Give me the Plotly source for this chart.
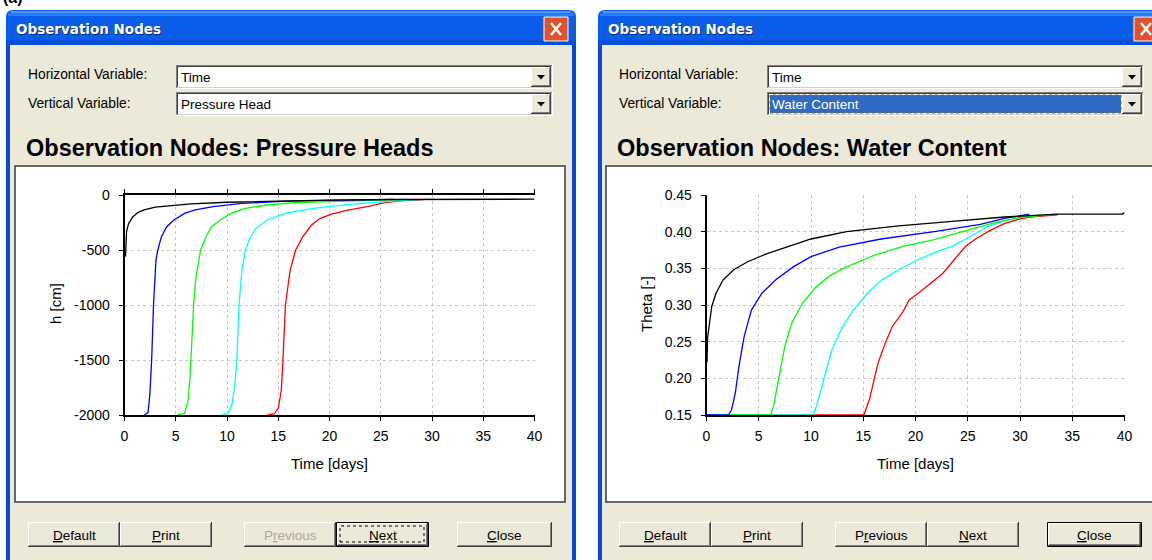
import plotly.graph_objects as go

W, H = 1152, 560

# ---------------- data ----------------
time_ticks = [0, 5, 10, 15, 20, 25, 30, 35, 40]
time_tick_labels = ["0", "5", "10", "15", "20", "25", "30", "35", "40"]
h_ticks = [-2000, -1500, -1000, -500, 0]
h_tick_labels = ["-2000", "-1500", "-1000", "-500", "0"]
theta_ticks = [0.15, 0.20, 0.25, 0.30, 0.35, 0.40, 0.45]
theta_tick_labels = ["0.15", "0.20", "0.25", "0.30", "0.35", "0.40", "0.45"]

node_names = ["Node 1", "Node 2", "Node 3", "Node 4", "Node 5"]
node_colors = ["#000000", "#0000FF", "#00FF00", "#00FFFF", "#FF0000"]

# pressure head h [cm] vs time [days]
h_t1 = [0.1, 0.12, 0.2, 0.4, 0.8, 1.3, 1.9, 3.0, 4.5, 6.5, 10, 15, 20, 26, 40]
h_v1 = [-560, -420, -330, -260, -200, -160, -135, -110, -95, -80, -66, -54, -46, -41, -38]
h_t2 = [1.95, 2.30, 2.48, 2.65, 2.83, 3.07, 3.25, 3.6, 4.12, 4.82, 5.86, 6.9, 8.66, 11.45, 15.3, 19.5, 26.3]
h_v2 = [-2000, -1976, -1803, -1500, -1000, -591, -500, -379, -288, -227, -167, -136, -106, -76, -58, -48, -39]
h_t3 = [5.17, 5.86, 6.21, 6.39, 6.56, 6.74, 6.98, 7.43, 7.96, 8.48, 9.35, 10.4, 11.8, 13.9, 16.7, 20.2, 23.7, 27.5]
h_v3 = [-2000, -1985, -1863, -1651, -1348, -1000, -742, -500, -379, -288, -227, -167, -121, -91, -70, -61, -52, -39]
h_t4 = [9.53, 10.1, 10.47, 10.75, 10.96, 11.17, 11.45, 11.8, 12.3, 12.85, 13.9, 15.6, 18.4, 21.9, 25.4, 28.55]
h_v4 = [-2000, -1985, -1909, -1742, -1500, -1000, -682, -500, -379, -303, -227, -167, -121, -85, -61, -42]
h_t5 = [13.96, 14.6, 15.0, 15.3, 15.46, 15.7, 16.16, 16.7, 17.4, 18.25, 19.1, 20.2, 21.9, 23.7, 25.4, 27.15, 29.2]
h_v5 = [-2000, -1991, -1939, -1773, -1500, -1000, -682, -500, -379, -273, -212, -173, -136, -106, -70, -52, -42]

# water content theta [-] vs time [days]
w_t1 = [0.05, 0.1, 0.24, 0.5, 0.91, 1.58, 2.6, 3.94, 5.6, 7.65, 10.0, 13.4, 18.4, 23.5, 28.5, 33.6, 39.8, 40.0]
w_v1 = [0.222, 0.255, 0.27, 0.298, 0.316, 0.334, 0.348, 0.359, 0.369, 0.379, 0.390, 0.400, 0.408, 0.414, 0.420, 0.424, 0.424, 0.426]
w_t2 = [0, 2.1, 2.4, 2.76, 3.1, 3.6, 4.3, 5.3, 6.6, 8.3, 10.0, 12.7, 16.7, 21.8, 26.2, 28.5, 30.9]
w_v2 = [0.15, 0.15, 0.157, 0.18, 0.216, 0.257, 0.293, 0.316, 0.334, 0.352, 0.366, 0.379, 0.390, 0.400, 0.410, 0.418, 0.424]
w_t3 = [0, 6.13, 6.4, 6.64, 6.98, 7.48, 8.15, 9.17, 10.35, 11.7, 13.4, 16.1, 18.8, 21.8, 24.5, 27.5, 30.2, 32.6, 33.6]
w_v3 = [0.15, 0.15, 0.161, 0.18, 0.207, 0.243, 0.275, 0.302, 0.323, 0.339, 0.352, 0.368, 0.380, 0.389, 0.400, 0.412, 0.420, 0.423, 0.424]
w_t4 = [0, 10.2, 10.5, 10.85, 11.35, 12.0, 13.0, 14.05, 15.4, 16.75, 18.4, 20.1, 22.1, 23.5, 25.2, 26.9, 28.5, 30.2, 32.2]
w_v4 = [0.15, 0.15, 0.161, 0.18, 0.207, 0.239, 0.27, 0.293, 0.316, 0.334, 0.348, 0.361, 0.373, 0.380, 0.393, 0.407, 0.415, 0.420, 0.423]
w_t5 = [0, 15.06, 15.57, 15.9, 16.4, 17.1, 17.76, 18.8, 19.4, 20.45, 21.5, 22.6, 23.66, 24.8, 25.85, 27.2, 28.5, 29.9, 30.9, 33.6]
w_v5 = [0.15, 0.15, 0.17, 0.189, 0.22, 0.248, 0.27, 0.291, 0.307, 0.318, 0.33, 0.343, 0.361, 0.380, 0.391, 0.402, 0.411, 0.417, 0.420, 0.423]

h_times = [h_t1, h_t2, h_t3, h_t4, h_t5]
h_values = [h_v1, h_v2, h_v3, h_v4, h_v5]
w_times = [w_t1, w_t2, w_t3, w_t4, w_t5]
w_values = [w_v1, w_v2, w_v3, w_v4, w_v5]

# ---------------- helpers (pixel -> paper) ----------------
UI_FONT = "Liberation Sans, Arial, sans-serif"
shapes, annotations = [], []


def X(px):
    return px / W


def Y(py):
    return 1 - py / H


def rect(x0, y0, x1, y1, fill=None, line=None, lw=1, dash="solid"):
    shp = dict(type="rect", xref="paper", yref="paper", layer="below",
               x0=X(x0), x1=X(x1), y0=Y(y1), y1=Y(y0),
               fillcolor=fill or "rgba(0,0,0,0)")
    shp["line"] = dict(color=line, width=lw, dash=dash) if line else dict(width=0)
    shapes.append(shp)


def seg(x0, y0, x1, y1, color, lw=1, dash="solid"):
    shapes.append(dict(type="line", xref="paper", yref="paper", layer="below",
                       x0=X(x0), x1=X(x1), y0=Y(y0), y1=Y(y1),
                       line=dict(color=color, width=lw, dash=dash)))


def poly(points, fill):
    d = "M " + " L ".join(f"{X(x):.6f},{Y(y):.6f}" for x, y in points) + " Z"
    shapes.append(dict(type="path", xref="paper", yref="paper", layer="below",
                       path=d, fillcolor=fill, line=dict(width=0)))


def text(x, y, s, size=13, color="#000000", family=UI_FONT, xanchor="left", angle=0):
    annotations.append(dict(x=X(x), y=Y(y), xref="paper", yref="paper", text=s,
                            showarrow=False, xanchor=xanchor, yanchor="middle",
                            textangle=angle, borderpad=0,
                            font=dict(size=size, color=color, family=family)))


def window(x0, x1):
    top, r = 10, 7
    d = (f"M {X(x0)},{Y(H + 5)} L {X(x0)},{Y(top + r)} Q {X(x0)},{Y(top)} {X(x0 + r)},{Y(top)} "
         f"L {X(x1 - r)},{Y(top)} Q {X(x1)},{Y(top)} {X(x1)},{Y(top + r)} L {X(x1)},{Y(H + 5)} Z")
    shapes.append(dict(type="path", xref="paper", yref="paper", layer="below",
                       path=d, fillcolor="#0A5DE8", line=dict(width=0)))
    rect(x0 + 5, 11, x1 - 5, 13, fill="#4A98FF")
    rect(x0 + 2, 13, x1 - 2, 16, fill="#2A7BF8")
    rect(x0, 40, x1, 45, fill="#0550DA")
    rect(x0, 45, x1, H + 5, fill="#0847D8")
    rect(x0 + 4, 45, x1 - 4, H + 5, fill="#ECE9D8")
    text(x0 + 10, 29.5, "<b>Observation Nodes</b>", size=13.5, color="#0A2A80",
         family="DejaVu Sans, sans-serif")
    text(x0 + 9, 28.5, "<b>Observation Nodes</b>", size=13.5, color="#FFFFFF",
         family="DejaVu Sans, sans-serif")


def close_btn(x0):
    rect(x0, 17, x0 + 24, 41, fill="#E0522C", line="#FFFFFF", lw=1)
    seg(x0 + 7, 23, x0 + 17, 35, "#FFFFFF", 2.5)
    seg(x0 + 17, 23, x0 + 7, 35, "#FFFFFF", 2.5)


def combo(x0, x1, y0, y1, label, selected=False):
    rect(x0, y0, x1, y1, fill="#FFFFFF")
    seg(x0, y0 + 0.5, x1, y0 + 0.5, "#808080")
    seg(x0 + 0.5, y0, x0 + 0.5, y1, "#808080")
    seg(x0 + 1, y0 + 1.5, x1 - 1, y0 + 1.5, "#404040")
    seg(x0 + 1.5, y0 + 1, x0 + 1.5, y1 - 1, "#404040")
    seg(x0, y1 - 0.5, x1, y1 - 0.5, "#FFFFFF")
    seg(x1 - 0.5, y0, x1 - 0.5, y1, "#FFFFFF")
    seg(x0 + 1, y1 - 1.5, x1 - 1, y1 - 1.5, "#D4D0C8")
    seg(x1 - 1.5, y0 + 1, x1 - 1.5, y1 - 1, "#D4D0C8")
    bx0, bx1, by0, by1 = x1 - 22, x1 - 2, y0 + 2, y1 - 2
    rect(bx0, by0, bx1, by1, fill="#ECE9D8")
    seg(bx0, by0 + 0.5, bx1, by0 + 0.5, "#FFFFFF")
    seg(bx0 + 0.5, by0, bx0 + 0.5, by1, "#FFFFFF")
    seg(bx0, by1 - 0.5, bx1, by1 - 0.5, "#404040")
    seg(bx1 - 0.5, by0, bx1 - 0.5, by1, "#404040")
    seg(bx0 + 1, by1 - 1.5, bx1 - 1, by1 - 1.5, "#808080")
    seg(bx1 - 1.5, by0 + 1, bx1 - 1.5, by1 - 1, "#808080")
    cx, cy = (bx0 + bx1) / 2, (by0 + by1) / 2
    poly([(cx - 4, cy - 2), (cx + 4, cy - 2), (cx, cy + 2.5)], "#000000")
    if selected:
        rect(x0 + 3, y0 + 3, bx0 - 1, y1 - 3, fill="#316AC5", line="#7A6A40", lw=1, dash="dot")
        text(x0 + 4, (y0 + y1) / 2 + 0.5, label, size=13.5, color="#FFFFFF")
    else:
        text(x0 + 4, (y0 + y1) / 2 + 0.5, label, size=13.5)


def button(x0, x1, y0, y1, label, default=False, focus=False, disabled=False):
    rect(x0, y0, x1, y1, fill="#ECE9D8")
    if default:
        rect(x0 + 0.5, y0 + 0.5, x1 - 0.5, y1 - 0.5, line="#000000", lw=1)
        x0, y0, x1, y1 = x0 + 1, y0 + 1, x1 - 1, y1 - 1
    seg(x0, y0 + 0.5, x1, y0 + 0.5, "#FFFFFF")
    seg(x0 + 0.5, y0, x0 + 0.5, y1, "#FFFFFF")
    seg(x0, y1 - 0.5, x1, y1 - 0.5, "#404040")
    seg(x1 - 0.5, y0, x1 - 0.5, y1, "#404040")
    seg(x0 + 1, y1 - 1.5, x1 - 1, y1 - 1.5, "#808080")
    seg(x1 - 1.5, y0 + 1, x1 - 1.5, y1 - 1, "#808080")
    if focus:
        rect(x0 + 3, y0 + 3, x1 - 4, y1 - 4, line="#000000", lw=1, dash="dot")
    text((x0 + x1) / 2, (y0 + y1) / 2 + 0.5, label, size=13.5,
         color="#ACA899" if disabled else "#000000", xanchor="center")


# ---------------- dialog chrome ----------------
text(13, -3, "<b>(a)</b>", size=16, xanchor="center")

for off, x0, x1, close_x, title, vlabel, sel, btn_x in [
    (0, 6, 576, 544, "Observation Nodes: Pressure Heads", "Pressure Head", False,
     [(28, 120), (120, 212), (244, 336), (336, 429), (457, 552)]),
    (591, 598, 1170, 1134, "Observation Nodes: Water Content", "Water Content", True,
     [(619, 711), (711, 803), (835, 927), (927, 1019), (1047, 1142)]),
]:
    window(x0, x1)
    close_btn(close_x)
    text(27 + off, 75, "Horizontal Variable:", size=13.8)
    text(27 + off, 103, "Vertical Variable:", size=13.8)
    combo(176 + off, 553 + off, 65, 89, "Time")
    combo(176 + off, 553 + off, 92, 116, vlabel, selected=sel)
    text(25 + off, 148, f"<b>{title}</b>", size=23.5, family="Liberation Sans, Arial, sans-serif")
    rect(15 + off, 166, 565 + off, 502, fill="#FFFFFF", line="#3A3A3A", lw=1.5)
    labels = ["<u>D</u>efault", "<u>P</u>rint", "P<u>r</u>evious", "<u>N</u>ext", "<u>C</u>lose"]
    for i, ((bx0, bx1), lab) in enumerate(zip(btn_x, labels)):
        if off == 0:
            button(bx0, bx1, 522, 547, lab, default=(i == 3), focus=(i == 3), disabled=(i == 2))
        else:
            button(bx0, bx1, 522, 547, lab, default=(i == 4))

# axis titles
text(329.5, 463, "Time [days]", size=15, xanchor="center")
text(915.5, 463, "Time [days]", size=15, xanchor="center")
text(55, 304, "h [cm]", size=15, xanchor="center", angle=-90)
text(646, 304, "Theta [-]", size=15, xanchor="center", angle=-90)

# ---------------- figure ----------------
fig = go.Figure()
for name, color, t, v in reversed(list(zip(node_names, node_colors, h_times, h_values))):
    fig.add_trace(go.Scatter(x=t, y=v, mode="lines", name=name, showlegend=False,
                             line=dict(color=color, width=1.3), xaxis="x", yaxis="y",
                             hoverinfo="skip"))
for name, color, t, v in reversed(list(zip(node_names, node_colors, w_times, w_values))):
    fig.add_trace(go.Scatter(x=t, y=v, mode="lines", name=name, showlegend=False,
                             line=dict(color=color, width=1.3), xaxis="x2", yaxis="y2",
                             hoverinfo="skip"))

tickfont = dict(family=UI_FONT, size=14, color="#000000")
main_ax = dict(showline=True, linecolor="#000000", linewidth=1.6, ticks="outside", ticklen=4,
               tickwidth=1, tickcolor="#000000", showgrid=True, gridcolor="#C8C8C8",
               gridwidth=1, griddash="3px,3px", zeroline=False, tickfont=tickfont,
               ticklabelstandoff=6, fixedrange=True, autorange=False, automargin=False)
inner_ax = dict(showline=False, ticks="inside", ticklen=4, tickwidth=1, tickcolor="#000000",
                showgrid=False, zeroline=False, showticklabels=False, fixedrange=True,
                autorange=False, automargin=False)

ydom = [1 - 415 / H, 1 - 195 / H]
xdom1 = [124.5 / W, 534.5 / W]
xdom2 = [706.5 / W, 1124.5 / W]

fig.update_layout(
    width=W, height=H, autosize=False,
    margin=dict(l=0, r=0, t=0, b=0, pad=0, autoexpand=False),
    paper_bgcolor="#FFFFFF", plot_bgcolor="rgba(0,0,0,0)",
    showlegend=False, hovermode=False,
    xaxis=dict(main_ax, domain=xdom1, anchor="y", range=[0, 40], tickmode="array",
               tickvals=time_ticks, ticktext=time_tick_labels, mirror="ticks",
               ticklabelstandoff=3),
    yaxis=dict(main_ax, domain=ydom, anchor="x", range=[-2000, 0], tickmode="array",
               tickvals=h_ticks, ticktext=h_tick_labels),
    xaxis2=dict(main_ax, domain=xdom2, anchor="y2", range=[0, 40], tickmode="array",
                tickvals=time_ticks, ticktext=time_tick_labels, ticklabelstandoff=3),
    yaxis2=dict(main_ax, domain=ydom, anchor="x2", range=[0.15, 0.45], tickmode="array",
                tickvals=theta_ticks, ticktext=theta_tick_labels),
    xaxis3=dict(inner_ax, overlaying="x", anchor="y", range=[0, 40], tickmode="array",
                tickvals=time_ticks, mirror="ticks", showline=True, linecolor="#000000",
                linewidth=1.6),
    yaxis3=dict(inner_ax, overlaying="y", anchor="x", range=[-2000, 0], tickmode="array",
                tickvals=h_ticks),
    xaxis4=dict(inner_ax, overlaying="x2", anchor="y2", range=[0, 40], tickmode="array",
                tickvals=time_ticks),
    yaxis4=dict(inner_ax, overlaying="y2", anchor="x2", range=[0.15, 0.45], tickmode="array",
                tickvals=theta_ticks),
    shapes=shapes,
    annotations=annotations,
)

page_fix = (
    "document.documentElement.style.margin='0';document.documentElement.style.padding='0';"
    "document.documentElement.style.overflow='hidden';"
    "document.body.style.margin='0';document.body.style.padding='0';"
    "document.body.style.overflow='hidden';"
    "var gd=document.getElementById('{plot_id}');"
    "gd.style.position='absolute';gd.style.left='0px';gd.style.top='0px';"
)

fig.write_html("out.html", post_script=page_fix, config={"displayModeBar": False})
